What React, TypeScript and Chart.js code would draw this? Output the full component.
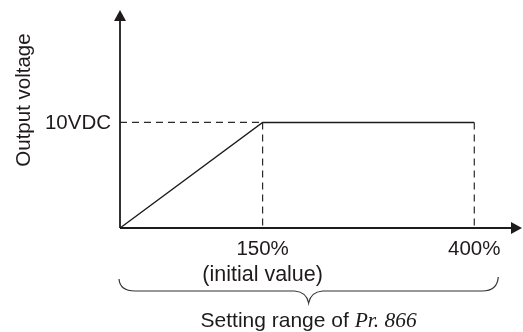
import React, { useEffect, useRef } from "react";
import { Chart, registerables } from "chart.js";

Chart.register(...registerables);

// Schematic positions along the x axis (400 % mark = 400 units)
const curveX = [0, 161, 400];
const curveY = [0, 10, 10];
const xTickValues = [161, 400];
const xTickLabels = [["150%", "(initial value)"], ["400%"]];
const yTickValue = 10;
const yTickLabel = "10VDC";
const yTitle = "Output voltage";
const xTitlePlain = "Setting range of ";
const xTitleItalic = "Pr. 866";

const X_MAX = 455;
const Y_MAX = 20.65;

const SANS = "'Liberation Sans', Arial, Helvetica, sans-serif";
const SERIF = "'Liberation Serif', 'Times New Roman', serif";
const INK = "#1f1b1c";

const decorPlugin = {
  id: "decor",
  afterDatasetsDraw(chart: any) {
    const ctx = chart.ctx as CanvasRenderingContext2D;
    const xs = chart.scales.x;
    const ys = chart.scales.y;
    const ca = chart.chartArea;
    const x0 = xs.getPixelForValue(0);
    const y0 = ys.getPixelForValue(0);
    ctx.save();
    ctx.strokeStyle = INK;
    ctx.fillStyle = INK;
    // axes
    ctx.lineWidth = 1.8;
    ctx.beginPath();
    ctx.moveTo(x0, y0);
    ctx.lineTo(x0, ca.top + 8);
    ctx.moveTo(x0, y0);
    ctx.lineTo(ca.right - 10, y0);
    ctx.stroke();
    // arrow heads
    ctx.beginPath();
    ctx.moveTo(x0, ca.top);
    ctx.lineTo(x0 - 6, ca.top + 11);
    ctx.lineTo(x0 + 6, ca.top + 11);
    ctx.closePath();
    ctx.fill();
    const tipX = ca.right - 1;
    ctx.beginPath();
    ctx.moveTo(tipX, y0);
    ctx.lineTo(tipX - 11, y0 - 6);
    ctx.lineTo(tipX - 11, y0 + 6);
    ctx.closePath();
    ctx.fill();

    // texts
    ctx.font = `20.5px ${SANS}`;
    ctx.textBaseline = "middle";
    ctx.textAlign = "right";
    ctx.fillText(yTickLabel, x0 - 9, ys.getPixelForValue(yTickValue) + 1);

    ctx.textBaseline = "alphabetic";
    ctx.textAlign = "center";
    xTickValues.forEach((v, i) => {
      const px = xs.getPixelForValue(v);
      xTickLabels[i].forEach((line, j) => {
        ctx.font = j === 0 ? `20.5px ${SANS}` : `21.5px ${SANS}`;
        ctx.fillText(line, px, y0 + 27 + j * 26);
      });
    });

    ctx.save();
    ctx.font = `20.5px ${SANS}`;
    ctx.translate(24, 100);
    ctx.rotate(-Math.PI / 2);
    ctx.textBaseline = "middle";
    ctx.fillText(yTitle, 0, 0);
    ctx.restore();

    // brace
    const bl = x0 - 1;
    const br = xs.getPixelForValue(400) + 24;
    const mid = (bl + br) / 2;
    const by = y0 + 63;
    ctx.lineWidth = 1.2;
    ctx.strokeStyle = "#333";
    ctx.beginPath();
    ctx.moveTo(bl, by - 12);
    ctx.quadraticCurveTo(bl + 1, by, bl + 16, by);
    ctx.lineTo(mid - 14, by);
    ctx.quadraticCurveTo(mid - 2, by + 1, mid, by + 12);
    ctx.quadraticCurveTo(mid + 2, by + 1, mid + 14, by);
    ctx.lineTo(br - 16, by);
    ctx.quadraticCurveTo(br - 1, by, br, by - 14);
    ctx.stroke();

    // x title with italic part
    ctx.textAlign = "left";
    ctx.font = `21px ${SANS}`;
    const w1 = ctx.measureText(xTitlePlain).width;
    ctx.font = `italic 21.5px ${SERIF}`;
    const w2 = ctx.measureText(xTitleItalic).width;
    const sx = mid - (w1 + w2) / 2;
    const ty = y0 + 99;
    ctx.font = `21px ${SANS}`;
    ctx.fillText(xTitlePlain, sx, ty);
    ctx.font = `italic 21.5px ${SERIF}`;
    ctx.fillText(xTitleItalic, sx + w1, ty);
    ctx.restore();
  },
};

export default function App() {
  const ref = useRef<HTMLCanvasElement | null>(null);
  useEffect(() => {
    if (!ref.current) return;
    const solid = curveX.map((x, i) => ({ x, y: curveY[i] }));
    const dash = [7, 5];
    const guide = (pts: { x: number; y: number }[]) => ({
      data: pts,
      borderColor: "#2a2a2a",
      borderWidth: 1.2,
      borderDash: dash,
      pointRadius: 0,
      fill: false,
    });
    const chart = new Chart(ref.current, {
      type: "line",
      data: {
        datasets: [
          guide([{ x: 0, y: curveY[1] }, { x: curveX[1], y: curveY[1] }]),
          guide([{ x: curveX[1], y: curveY[1] }, { x: curveX[1], y: 0 }]),
          guide([{ x: curveX[2], y: curveY[2] }, { x: curveX[2], y: 0 }]),
          {
            data: solid,
            borderColor: INK,
            borderWidth: 1.4,
            pointRadius: 0,
            fill: false,
          },
        ],
      },
      options: {
        animation: false,
        responsive: false,
        events: [],
        layout: { padding: { left: 120, top: 10, right: 0, bottom: 104 } },
        plugins: { legend: { display: false }, tooltip: { enabled: false } },
        scales: {
          x: { type: "linear", min: 0, max: X_MAX, display: false },
          y: { type: "linear", min: 0, max: Y_MAX, display: false },
        },
      },
      plugins: [decorPlugin],
    } as any);
    return () => chart.destroy();
  }, []);
  return (
    <div style={{ position: "absolute", left: 0, top: 0, width: 523, height: 332, background: "#fff" }}>
      <canvas ref={ref} width={523} height={332} style={{ display: "block" }} />
    </div>
  );
}
